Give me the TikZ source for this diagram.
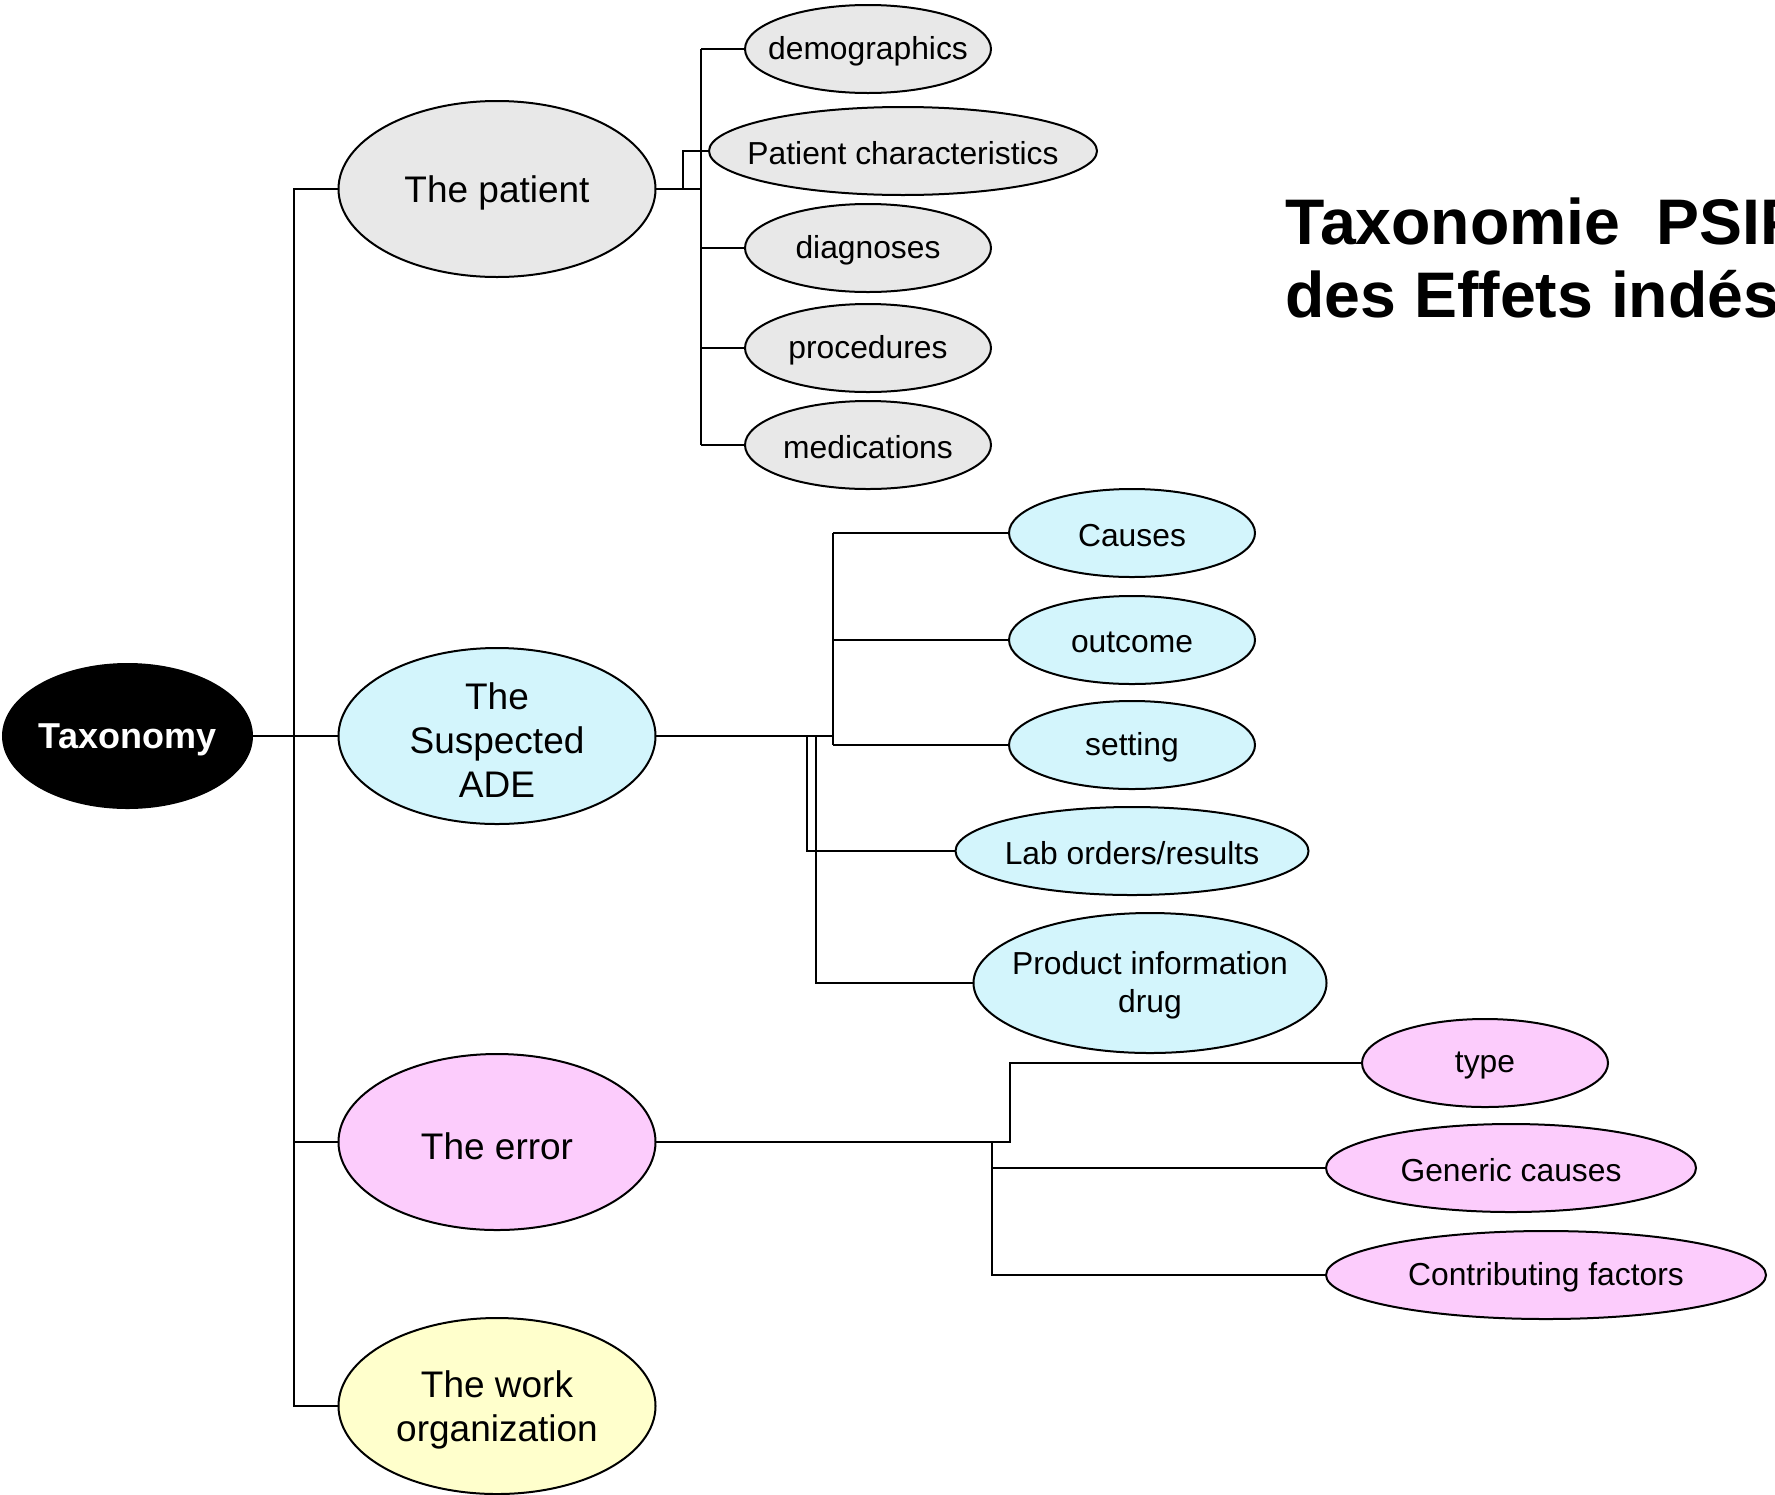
\documentclass[tikz,border=0pt]{standalone}
\usepackage{fontspec}
\setmainfont{Liberation Sans}
\usetikzlibrary{shapes.geometric}
\definecolor{cgray}{RGB}{232,232,232}
\definecolor{ccyan}{RGB}{211,245,252}
\definecolor{cpink}{RGB}{252,204,252}
\definecolor{cyell}{RGB}{255,255,204}
\tikzset{
  ell/.style={ellipse, draw, line width=1pt, inner sep=0pt, outer sep=0pt},
  mainell/.style={ell, minimum width=158.5pt, minimum height=88pt},
  kidell/.style={ell, minimum height=44pt},
  maintxt/.style={font=\fontsize{18.5pt}{22pt}\selectfont, align=center, yshift=-2pt},
  kidtxt/.style={font=\fontsize{15.9pt}{19.2pt}\selectfont, align=center, yshift=-1.2pt},
  conn/.style={line width=1pt},
  titletxt/.style={font=\fontsize{32.2pt}{36pt}\selectfont\bfseries, anchor=base west, inner sep=0pt}
}
\begin{document}
\begin{tikzpicture}[x=0.5pt,y=-0.5pt]
\useasboundingbox (0,0) rectangle (1775,1494);
\clip (0,0) rectangle (1775,1494);
% root
\node[ell, fill=black, minimum width=124.5pt, minimum height=72pt,
  label={[font=\fontsize{18pt}{22pt}\selectfont\bfseries, text=white, yshift=-1.7pt]center:Taxonomy}] (tax) at (127.5,736) {};
% main level
\node[mainell, fill=cgray, label={[maintxt]center:The patient}] (pat) at (497,189) {};
\node[mainell, fill=ccyan, label={[maintxt]center:The\\Suspected\\ADE}] (ade) at (497,736) {};
\node[mainell, fill=cpink, label={[maintxt]center:The error}] (err) at (497,1142) {};
\node[mainell, fill=cyell, label={[maintxt]center:The work\\organization}] (work) at (497,1406) {};
% patient children
\node[kidell, fill=cgray, minimum width=123pt, label={[kidtxt]center:demographics}] (demo) at (868,49) {};
\node[kidell, fill=cgray, minimum width=194pt, label={[kidtxt]center:Patient characteristics}] (pc) at (903,151) {};
\node[kidell, fill=cgray, minimum width=123pt, label={[kidtxt]center:diagnoses}] (diag) at (868,248) {};
\node[kidell, fill=cgray, minimum width=123pt, label={[kidtxt]center:procedures}] (proc) at (868,348) {};
\node[kidell, fill=cgray, minimum width=123pt, label={[kidtxt]center:medications}] (med) at (868,445) {};
% ADE children
\node[kidell, fill=ccyan, minimum width=123pt, label={[kidtxt]center:Causes}] (cause) at (1132,533) {};
\node[kidell, fill=ccyan, minimum width=123pt, label={[kidtxt]center:outcome}] (outc) at (1132,640) {};
\node[kidell, fill=ccyan, minimum width=123pt, label={[kidtxt]center:setting}] (sett) at (1132,745) {};
\node[kidell, fill=ccyan, minimum width=176.5pt, label={[kidtxt]center:Lab orders/results}] (lab) at (1132,851) {};
\node[ell, fill=ccyan, minimum width=176.5pt, minimum height=70pt, label={[kidtxt]center:Product information\\drug}] (prod) at (1150,983) {};
% error children
\node[kidell, fill=cpink, minimum width=123pt, label={[kidtxt]center:type}] (typ) at (1485,1063) {};
\node[kidell, fill=cpink, minimum width=185pt, label={[kidtxt]center:Generic causes}] (gen) at (1511,1168) {};
\node[kidell, fill=cpink, minimum width=220pt, label={[kidtxt]center:Contributing factors}] (contr) at (1546,1275) {};
% title
\node[titletxt] (title1) at (1285,244) {Taxonomie\ \ PSIP};
\node[titletxt] (title2) at (1285,317) {des Effets indésirables};
% trunk
\coordinate (tTop) at (294,189);
\coordinate (tBot) at (294,1406);
\draw[conn] (tax.east) -- (ade.west);
\draw[conn] (pat.west) -- (tTop) -- (tBot) -- (work.west);
\draw[conn] (err.west) -- (294,1142);
% patient connectors
\coordinate (pj) at (701,189);
\draw[conn] (pat.east) -- (pj);
\draw[conn] (701,49) -- (701,445);
\draw[conn] (701,49) -- (demo.west);
\draw[conn] (701,248) -- (diag.west);
\draw[conn] (701,348) -- (proc.west);
\draw[conn] (701,445) -- (med.west);
\draw[conn] (pat.east) -- (683,189) -- (683,151) -- (pc.west);
% ADE connectors
\draw[conn] (ade.east) -- (833,736);
\draw[conn] (833,533) -- (833,745);
\draw[conn] (833,533) -- (cause.west);
\draw[conn] (833,640) -- (outc.west);
\draw[conn] (833,745) -- (sett.west);
\draw[conn] (807,736) |- (lab.west);
\draw[conn] (816,736) |- (prod.west);
% error connectors
\draw[conn] (err.east) -- (1010,1142) |- (typ.west);
\draw[conn] (992,1142) |- (gen.west);
\draw[conn] (992,1142) |- (contr.west);
\end{tikzpicture}
\end{document}
